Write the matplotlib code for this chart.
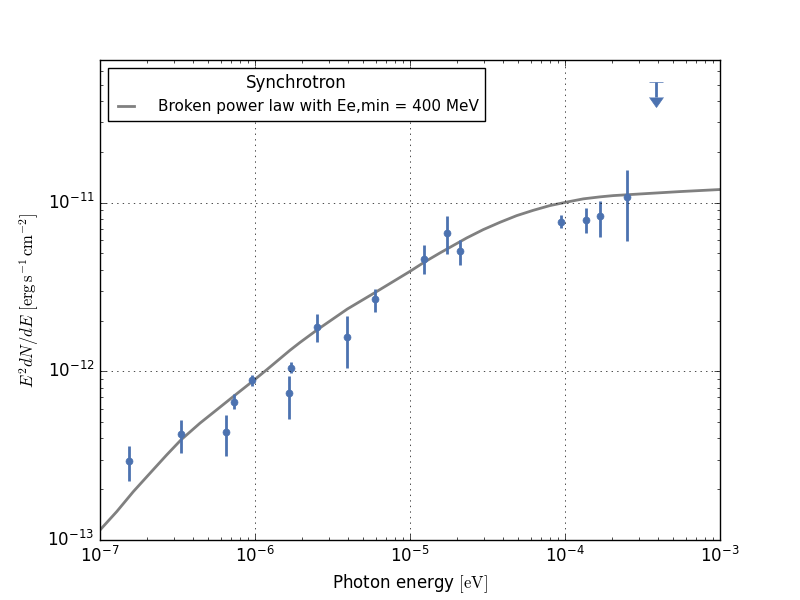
import numpy as np
import matplotlib
matplotlib.use("Agg")
import matplotlib.pyplot as plt

# measured synchrotron points (photon energy in eV, E^2 dN/dE)
energy = [1.54e-7, 3.34e-7, 6.5e-7, 7.35e-7, 9.62e-7, 1.66e-6, 1.71e-6,
          2.52e-6, 3.94e-6, 5.97e-6, 1.236e-5, 1.74e-5, 2.11e-5,
          9.46e-5, 1.37e-4, 1.69e-4, 2.52e-4]
flux = [2.94e-13, 4.26e-13, 4.36e-13, 6.57e-13, 8.82e-13, 7.42e-13, 1.044e-12,
        1.83e-12, 1.60e-12, 2.69e-12, 4.63e-12, 6.64e-12, 5.19e-12,
        7.68e-12, 7.93e-12, 8.37e-12, 1.086e-11]
flux_lo = [2.24e-13, 3.28e-13, 3.15e-13, 5.99e-13, 8.2e-13, 5.23e-13, 9.76e-13,
           1.49e-12, 1.044e-12, 2.25e-12, 3.79e-12, 4.98e-12, 4.29e-12,
           7.08e-12, 6.64e-12, 6.29e-12, 5.93e-12]
flux_hi = [3.61e-13, 5.15e-13, 5.52e-13, 7.35e-13, 9.53e-13, 9.4e-13, 1.13e-12,
           2.18e-12, 2.14e-12, 3.07e-12, 5.58e-12, 8.29e-12, 5.97e-12,
           8.41e-12, 9.25e-12, 1.028e-11, 1.564e-11]

# upper limit
ul_energy = [3.88e-4]
ul_flux = [5.2e-11]
ul_arrow = [1.0e-11]

# broken power law model
model_e = [1e-7, 1.281e-7, 1.640e-7, 2.102e-7, 2.694e-7, 3.331e-7, 4.417e-7,
           5.66e-7, 7.244e-7, 9.61e-7, 1.19e-6, 1.681e-6, 1.951e-6, 2.523e-6,
           3.941e-6, 5.973e-6, 1e-5, 1.237e-5, 1.561e-5, 2.321e-5, 2.971e-5,
           3.807e-5, 4.88e-5, 6.245e-5, 8.0e-5, 1.0104e-4, 1.312e-4,
           1.681e-4, 2.050e-4, 3.367e-4, 5.52e-4, 1e-3]
model_f = [1.146e-13, 1.472e-13, 1.935e-13, 2.488e-13, 3.195e-13, 3.923e-13,
           4.928e-13, 5.91e-13, 7.086e-13, 8.70e-13, 1.021e-12, 1.332e-12,
           1.482e-12, 1.763e-12, 2.339e-12, 2.936e-12, 3.912e-12, 4.436e-12,
           5.03e-12, 6.17e-12, 6.917e-12, 7.640e-12, 8.37e-12, 9.00e-12,
           9.60e-12, 1.004e-11, 1.052e-11, 1.081e-11, 1.100e-11, 1.131e-11,
           1.162e-11, 1.195e-11]

plt.style.use('classic')
plt.rcParams['figure.facecolor'] = 'white'
plt.rcParams['savefig.facecolor'] = 'white'

col = '#4C72B0'

fig = plt.figure(figsize=(8, 6), dpi=100)
ax = fig.add_subplot(111)

ax.plot(model_e, model_f, color='gray', lw=2,
        label='Broken power law with Ee,min = 400 MeV')

f = np.array(flux)
yerr = [f - np.array(flux_lo), np.array(flux_hi) - f]
ax.errorbar(energy, flux, yerr=yerr, fmt='o', color=col, mec=col,
            ms=5, elinewidth=2, capsize=0)
ul = ax.errorbar(ul_energy, ul_flux, yerr=ul_arrow, uplims=True, fmt='none',
                 ecolor=col, elinewidth=2, capsize=5)
for cl in ul[1]:
    cl.set_markerfacecolor(col)
    cl.set_markeredgecolor(col)

ax.set_xscale('log')
ax.set_yscale('log')
ax.set_xlim(1e-7, 1e-3)
ax.set_ylim(1e-13, 7e-11)
ax.grid(True)

ax.set_xlabel(r'Photon energy $[\mathrm{eV}]$', fontsize=12)
ax.set_ylabel(r'$E^2dN/dE\ [\mathrm{erg\,s^{-1}\,cm^{-2}}]$', fontsize=12)

ax.legend(loc='upper left', title='Synchrotron', fontsize=11,
          handlelength=1.6, handletextpad=1.3)

plt.savefig('out.png', dpi=100)
